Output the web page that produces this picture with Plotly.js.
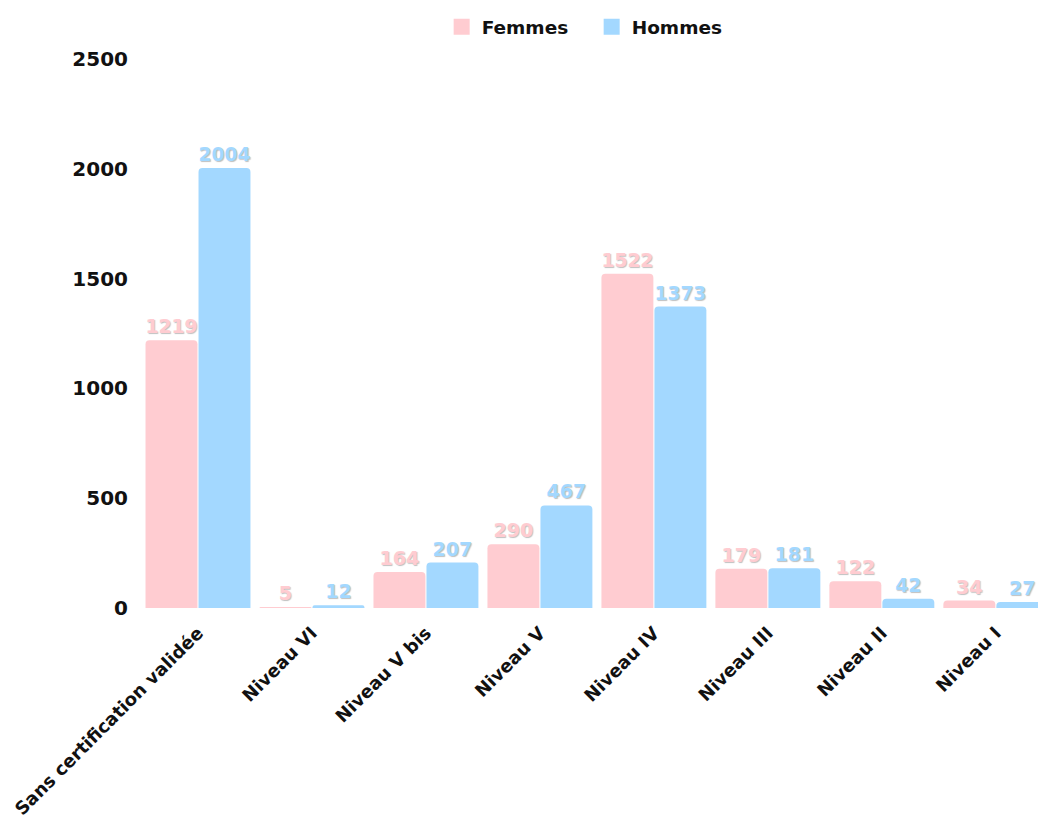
<!DOCTYPE html>
<html><head><meta charset="utf-8">
<script src="https://cdn.plot.ly/plotly-3.0.1.min.js"></script>
<style>html,body{margin:0;padding:0;background:#fff;}</style>
</head><body>
<div id="chart" style="width:1038px;height:824px;"></div>
<script>
const categories = ["Sans certification validée","Niveau VI","Niveau V bis","Niveau V","Niveau IV","Niveau III","Niveau II","Niveau I"];
const femmes = [1219, 5, 164, 290, 1522, 179, 122, 34];
const hommes = [2004, 12, 207, 467, 1373, 181, 42, 27];
const yTicks = [0, 500, 1000, 1500, 2000, 2500];

const pink = "#FFCCD1", blue = "#A3D8FF";
const FONT = "DejaVu Sans, Verdana, sans-serif";
function trace(name, vals, color){
  return {type:"bar", name:name, x:categories, y:vals, text:vals.map(String),
    textposition:"outside", cliponaxis:false, showlegend:false,
    textfont:{family:FONT, size:19, color:color, weight:700, shadow:"1px 1px 1px rgba(0,0,0,0.25)"},
    marker:{color:color, cornerradius:4, line:{width:0}}, hoverinfo:"skip"};
}
function legendTrace(name, color){
  return {type:"scatter", mode:"markers", name:name, x:[categories[0]], y:[null], showlegend:true,
    marker:{symbol:"square", size:22, color:color}, hoverinfo:"skip"};
}
const data = [trace("Femmes", femmes, pink), trace("Hommes", hommes, blue),
  legendTrace("Femmes", pink), legendTrace("Hommes", blue)];
const layout = {
  width:1038, height:824,
  margin:{l:141, r:0, t:59, b:216},
  paper_bgcolor:"#fff", plot_bgcolor:"#fff",
  barmode:"group", bargap:0.07, bargroupgap:0.02,
  font:{family:FONT, color:"#111"},
  showlegend:true,
  legend:{orientation:"h", x:0.570, xanchor:"center", xref:"container", y:0.99, yref:"container", yanchor:"top",
    font:{family:FONT, size:18.5, color:"#111", weight:700}, itemsizing:"trace", itemwidth:30,
    entrywidth:105, entrywidthmode:"pixels", tracegroupgap:0},
  xaxis:{range:[-0.5, 7.37], tickangle:-45, showgrid:false, zeroline:false, showline:false, ticks:"",
    ticklabelstandoff:10, tickfont:{family:FONT, size:18, color:"#111", weight:700}},
  yaxis:{range:[0, 2500], tickvals:yTicks, ticktext:yTicks.map(String), showgrid:false, zeroline:false, showline:false,
    ticks:"", ticklen:0, tickfont:{family:FONT, size:20, color:"#111", weight:700}, ticklabelstandoff:12}
};
Plotly.newPlot("chart", data, layout, {displayModeBar:false, staticPlot:true});
</script>
</body></html>
